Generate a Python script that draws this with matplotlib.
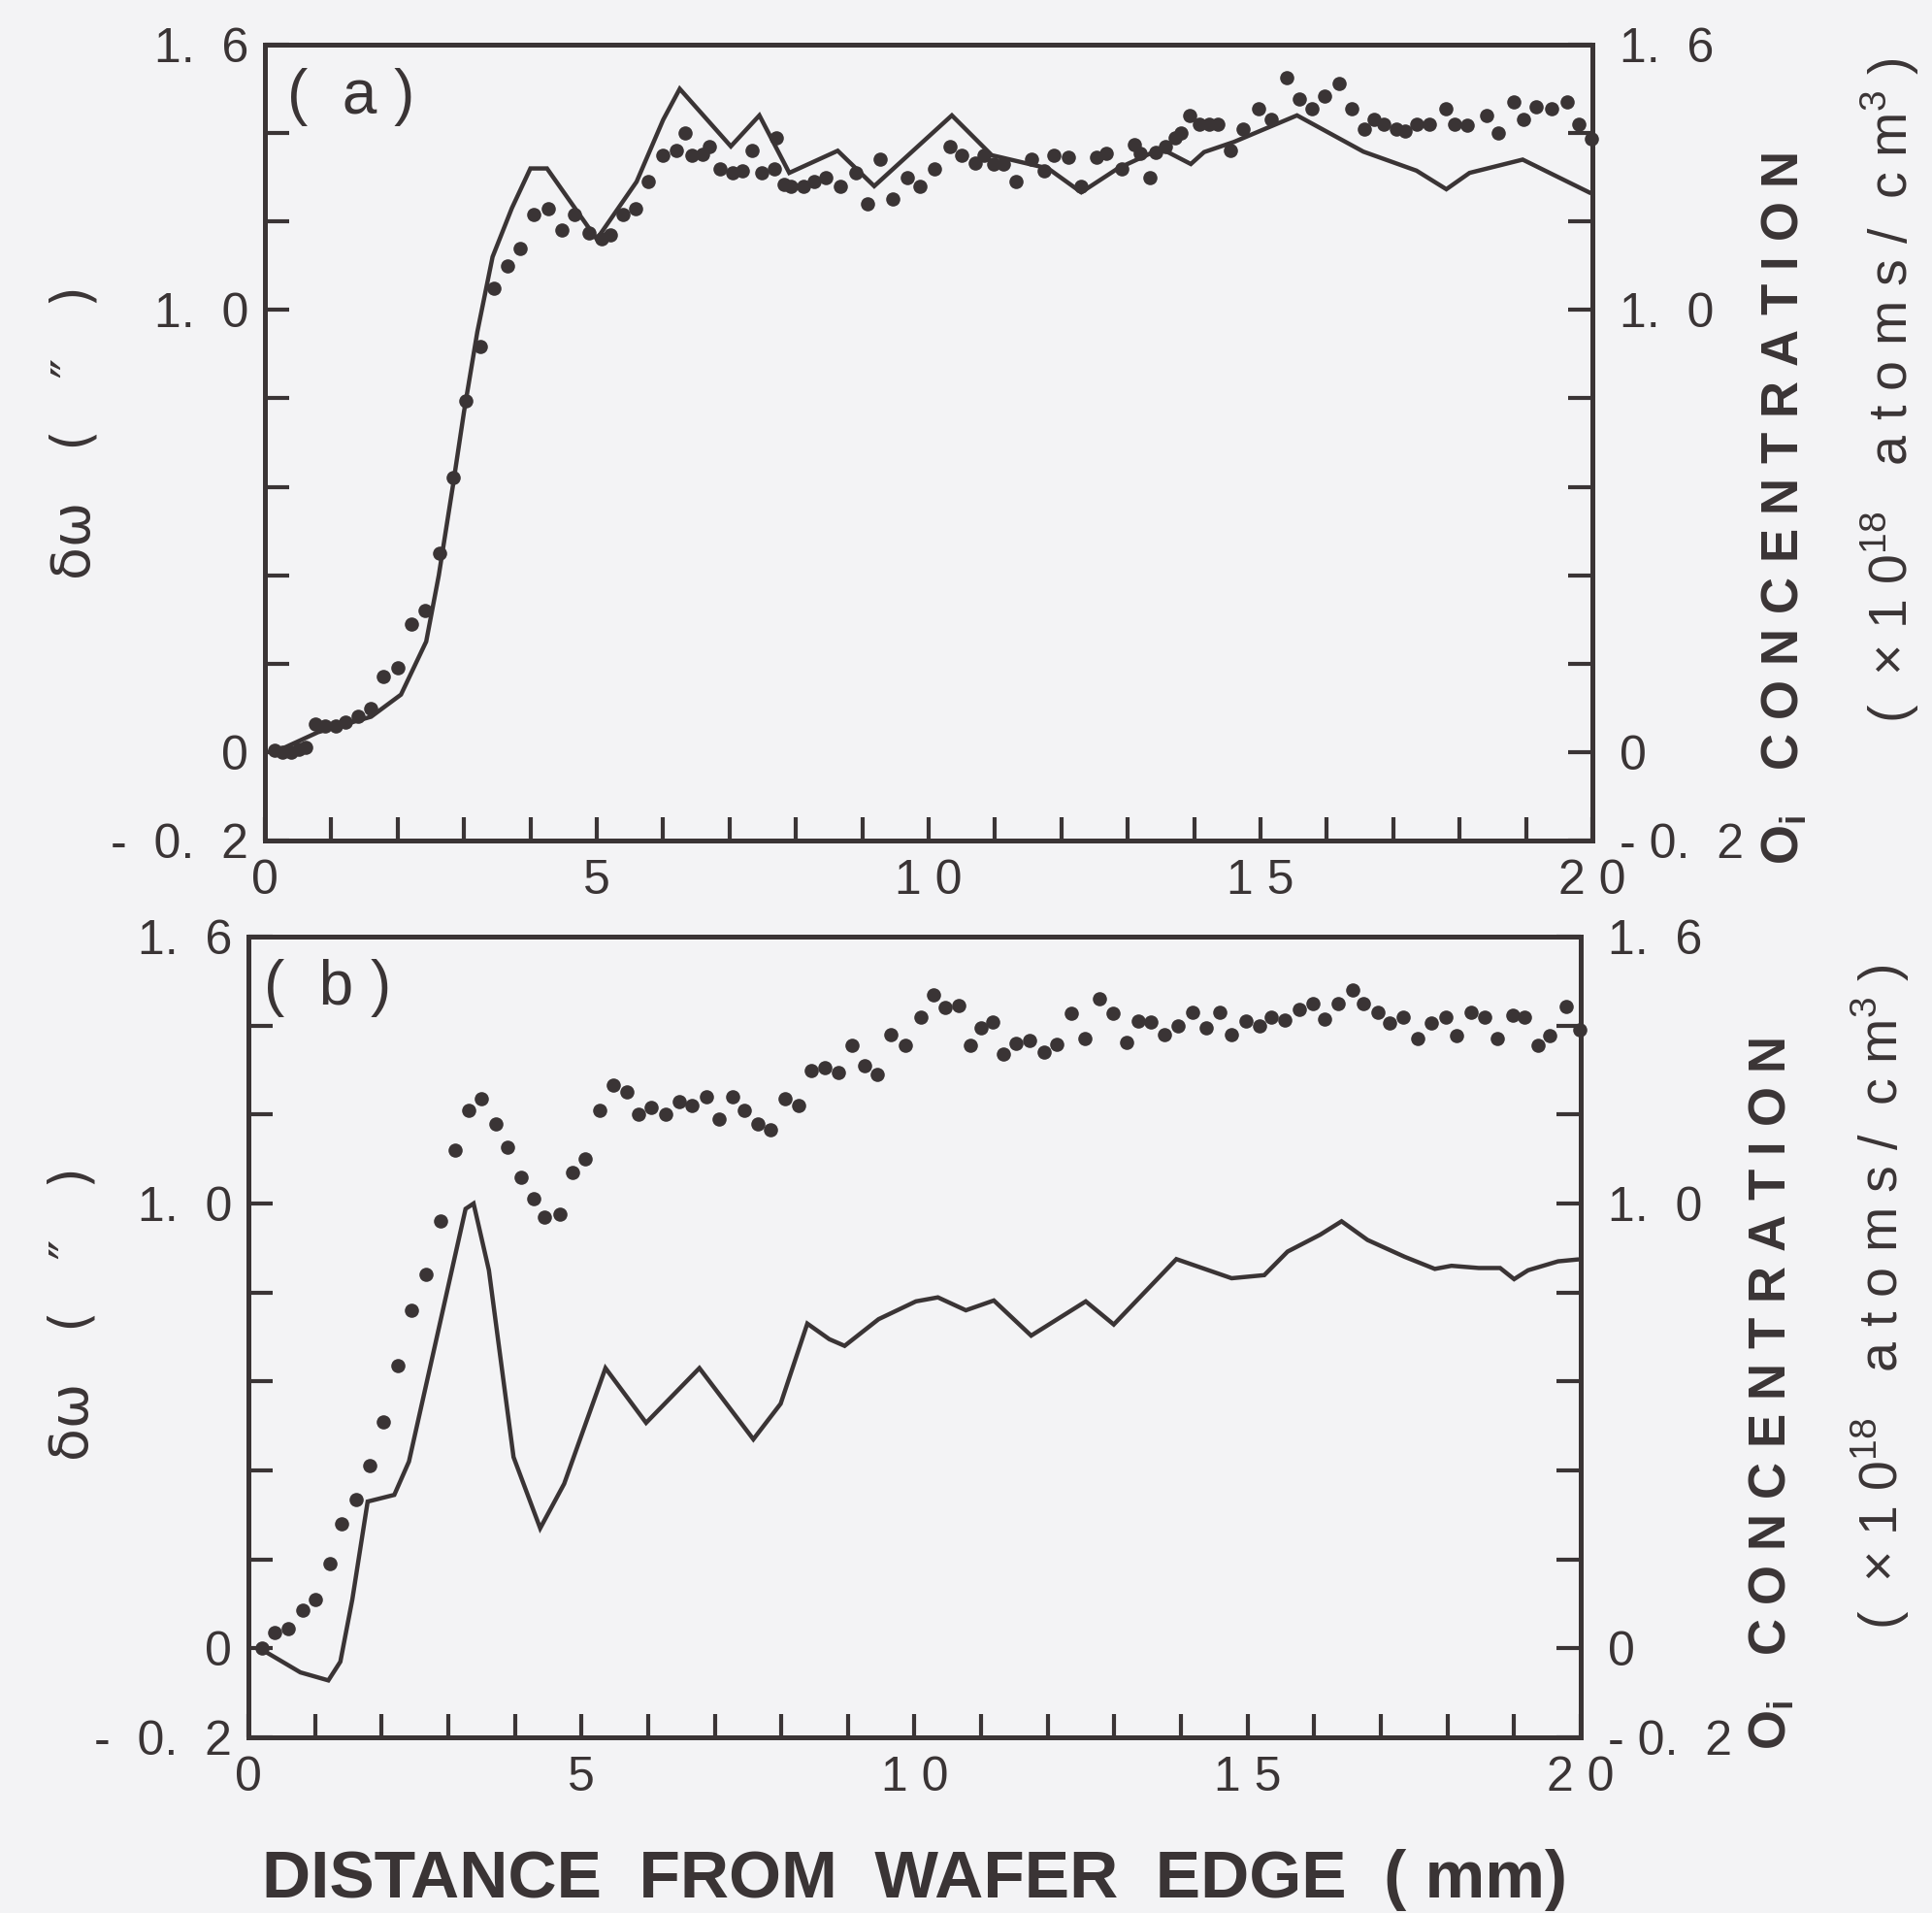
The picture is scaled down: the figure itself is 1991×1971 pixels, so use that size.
import matplotlib
matplotlib.use("Agg")
import matplotlib.pyplot as plt
from matplotlib import font_manager
from matplotlib.ticker import FixedLocator, MultipleLocator

# --- pick a condensed face if the box has one ---
names = {f.name for f in font_manager.fontManager.ttflist}
NARROW = "Liberation Sans Narrow" if "Liberation Sans Narrow" in names else "Liberation Sans"
plt.rcParams["font.family"] = [NARROW, "DejaVu Sans"]

INK = "#3a3435"
PAPER = "#f3f3f5"

# --- data (x in mm from wafer edge) ---
# (a): solid line = delta omega, dots = Oi concentration
a_line_x = [0.15, 0.8, 1.6, 2.05, 2.43, 2.62, 2.83, 3.0, 3.2, 3.43, 3.72, 4.0, 4.25,
            5.0, 5.6, 6.0, 6.25, 7.02, 7.45, 7.9, 8.63, 9.18, 10.35, 10.95, 11.8,
            12.3, 12.85, 13.5, 13.95, 14.15, 14.6, 15.55, 16.55, 17.35, 17.8, 18.15,
            18.95, 19.95]
a_line_y = [0.0, 0.045, 0.08, 0.13, 0.25, 0.4, 0.6, 0.77, 0.95, 1.12, 1.23, 1.32, 1.32,
            1.16, 1.29, 1.43, 1.50, 1.37, 1.44, 1.31, 1.36, 1.28, 1.44, 1.35, 1.32,
            1.266, 1.32, 1.365, 1.33, 1.357, 1.38, 1.44, 1.358, 1.315, 1.273, 1.31,
            1.34, 1.266]

a_dot_x = [0.14, 0.26, 0.4, 0.51, 0.62, 0.76, 0.91, 1.06, 1.21, 1.40, 1.59, 1.78, 2.0,
           2.21, 2.41, 2.63, 2.83, 3.03, 3.25, 3.45, 3.66, 3.84, 4.05, 4.27, 4.47, 4.66,
           4.88, 5.07, 5.2, 5.4, 5.59, 5.78, 6.0, 6.2, 6.33, 6.44, 6.59, 6.7, 6.85, 7.04,
           7.19, 7.34, 7.49, 7.67, 7.71, 7.82, 7.93, 8.12, 8.27, 8.45, 8.67, 8.9, 9.08,
           9.27, 9.46, 9.68, 9.87, 10.09, 10.32, 10.5, 10.70, 10.84, 10.98, 11.13, 11.31,
           11.55, 11.74, 11.88, 12.11, 12.30, 12.53, 12.67, 12.91, 13.10, 13.19, 13.33,
           13.42, 13.56, 13.71, 13.80, 13.94, 14.08, 14.22, 14.36, 14.55, 14.74, 14.97,
           15.16, 15.39, 15.58, 15.77, 15.96, 16.19, 16.38, 16.57, 16.71, 16.85, 17.04,
           17.18, 17.36, 17.55, 17.79, 17.93, 18.11, 18.40, 18.58, 18.82, 18.96, 19.15,
           19.38, 19.62, 19.80, 19.99]
a_dot_y = [0.004, 0.0, 0.0, 0.006, 0.01, 0.064, 0.058, 0.058, 0.068, 0.081, 0.099, 0.17,
           0.19, 0.289, 0.32, 0.45, 0.62, 0.795, 0.917, 1.05, 1.10, 1.14, 1.216, 1.228,
           1.18, 1.216, 1.175, 1.16, 1.17, 1.216, 1.23, 1.29, 1.35, 1.36, 1.40, 1.35,
           1.353, 1.37, 1.32, 1.31, 1.315, 1.36, 1.31, 1.32, 1.39, 1.285, 1.28, 1.28,
           1.29, 1.30, 1.28, 1.31, 1.24, 1.34, 1.25, 1.30, 1.28, 1.32, 1.37, 1.35,
           1.332, 1.35, 1.33, 1.33, 1.29, 1.34, 1.315, 1.35, 1.346, 1.28, 1.346, 1.355,
           1.32, 1.375, 1.355, 1.30, 1.357, 1.37, 1.39, 1.40, 1.44, 1.42, 1.42, 1.42,
           1.36, 1.41, 1.456, 1.43, 1.526, 1.477, 1.456, 1.484, 1.512, 1.456, 1.41,
           1.43, 1.42, 1.41, 1.405, 1.42, 1.42, 1.456, 1.42, 1.417, 1.44, 1.40, 1.47,
           1.43, 1.46, 1.456, 1.47, 1.42, 1.386]

# (b)
b_line_x = [0.17, 0.78, 1.20, 1.38, 1.56, 1.79, 2.19, 2.41, 3.26, 3.38, 3.61, 3.98,
            4.38, 4.74, 5.36, 5.97, 6.77, 7.58, 7.99, 8.39, 8.72, 8.95, 9.46, 10.02,
            10.35, 10.77, 11.19, 11.75, 12.57, 12.99, 13.93, 14.76, 15.25, 15.6, 16.09,
            16.41, 16.8, 17.36, 17.81, 18.06, 18.47, 18.79, 19.0, 19.21, 19.66, 19.94]
b_line_y = [0.0, -0.054, -0.072, -0.03, 0.11, 0.33, 0.345, 0.42, 0.988, 1.0, 0.85, 0.43,
            0.27, 0.37, 0.63, 0.507, 0.63, 0.47, 0.55, 0.73, 0.695, 0.68, 0.74, 0.78,
            0.789, 0.76, 0.782, 0.703, 0.78, 0.728, 0.875, 0.832, 0.839, 0.892, 0.93,
            0.96, 0.918, 0.88, 0.853, 0.86, 0.855, 0.855, 0.83, 0.85, 0.87, 0.874]

b_dot_x = [0.2, 0.39, 0.59, 0.81, 1.01, 1.23, 1.40, 1.62, 1.82, 2.03, 2.24, 2.45, 2.67,
           2.88, 3.10, 3.31, 3.50, 3.71, 3.89, 4.10, 4.28, 4.44, 4.67, 4.87, 5.06, 5.28,
           5.48, 5.68, 5.85, 6.05, 6.26, 6.47, 6.65, 6.87, 7.07, 7.27, 7.44, 7.65, 7.83,
           8.05, 8.26, 8.45, 8.65, 8.85, 9.06, 9.25, 9.44, 9.65, 9.86, 10.09, 10.28,
           10.46, 10.67, 10.84, 11.0, 11.17, 11.34, 11.52, 11.73, 11.94, 12.14, 12.35,
           12.56, 12.77, 12.98, 13.19, 13.36, 13.54, 13.75, 13.96, 14.17, 14.38, 14.58,
           14.76, 14.97, 15.18, 15.35, 15.56, 15.77, 15.98, 16.15, 16.36, 16.57, 16.74,
           16.95, 17.13, 17.34, 17.55, 17.76, 17.97, 18.14, 18.35, 18.56, 18.74, 18.98,
           19.15, 19.36, 19.54, 19.78, 19.99]
b_dot_y = [0.0, 0.036, 0.045, 0.085, 0.11, 0.19, 0.28, 0.335, 0.41, 0.51, 0.636, 0.76,
           0.84, 0.96, 1.12, 1.21, 1.235, 1.18, 1.127, 1.058, 1.01, 0.97, 0.976, 1.07,
           1.10, 1.21, 1.267, 1.25, 1.20, 1.215, 1.2, 1.23, 1.22, 1.24, 1.19, 1.24, 1.21,
           1.18, 1.165, 1.235, 1.22, 1.30, 1.305, 1.295, 1.355, 1.31, 1.29, 1.38, 1.355,
           1.42, 1.47, 1.44, 1.445, 1.355, 1.395, 1.408, 1.337, 1.361, 1.366, 1.34,
           1.357, 1.427, 1.37, 1.46, 1.427, 1.362, 1.411, 1.407, 1.379, 1.4, 1.43, 1.395,
           1.43, 1.38, 1.41, 1.40, 1.42, 1.413, 1.437, 1.45, 1.415, 1.45, 1.48, 1.45,
           1.43, 1.405, 1.42, 1.37, 1.406, 1.418, 1.377, 1.43, 1.418, 1.37, 1.424, 1.418,
           1.356, 1.377, 1.443, 1.39]

# --- axis scales and tick labels as printed ---
x_major = [0, 5, 10, 15, 20]
x_labels = ["0", "5", "1 0", "1 5", "2 0"]
y_major = [1.6, 1.0, 0.0, -0.2]
y_labels_left = ["1.  6", "1.  0", "0", "-  0.  2"]
y_labels_right = ["1.  6", "1.  0", "0", "- 0.  2"]

W, H = 1991, 1971
fig = plt.figure(figsize=(W / 100, H / 100), dpi=100)
fig.patch.set_facecolor(PAPER)

# axes rectangles in pixels: left, top, right, bottom
boxes = [(273, 46, 1641, 866), (256, 965, 1629, 1790)]
tags = [("(  a )", 362, 100), ("(  b )", 338, 1018)]
panels = [(a_line_x, a_line_y, a_dot_x, a_dot_y),
          (b_line_x, b_line_y, b_dot_x, b_dot_y)]


def style_axis(ax):
    ax.set_xlim(0, 20)
    ax.set_ylim(-0.2, 1.6)
    for s in ax.spines.values():
        s.set_linewidth(3.6)
        s.set_color(INK)
    ax.yaxis.set_major_locator(FixedLocator(y_major))
    ax.yaxis.set_minor_locator(MultipleLocator(0.2))
    ax.tick_params(axis="y", which="both", direction="in", length=18, width=3.0,
                   color=INK, labelcolor=INK, labelsize=36)


for (l, t, r, b), (lx, ly, dx, dy), (tag, tx, ty) in zip(boxes, panels, tags):
    ax = fig.add_axes([l / W, 1 - b / H, (r - l) / W, (b - t) / H])
    ax.set_facecolor(PAPER)
    style_axis(ax)
    ax.set_yticklabels(y_labels_left)
    ax.tick_params(axis="y", which="both", left=True, right=False, pad=12)
    ax.xaxis.set_major_locator(FixedLocator(x_major))
    ax.set_xticklabels(x_labels)
    ax.xaxis.set_minor_locator(MultipleLocator(1))
    ax.tick_params(axis="x", which="both", direction="in", length=17, width=3.0,
                   color=INK, labelcolor=INK, labelsize=36, pad=14, top=False)

    ax.plot(lx, ly, "-", lw=3.2, color=INK, solid_joinstyle="miter", zorder=3)
    ax.plot(dx, dy, "o", ms=10.5, mew=0, color=INK, zorder=4, clip_on=False)

    # right-hand axis: Oi concentration, same scale
    ax2 = ax.twinx()
    style_axis(ax2)
    ax2.set_yticklabels(y_labels_right)
    ax2.tick_params(axis="y", which="both", left=False, right=True, pad=20)

    fig.text(tx / W, 1 - ty / H, tag, fontsize=46, color=INK,
             ha="center", va="center")

# left axis titles
for cx, cy in [(78, 446), (76, 1354)]:
    fig.text(cx / W, 1 - cy / H, "δω   (   ″   )", rotation=90, fontsize=40,
             color=INK, ha="center", va="center", family=["DejaVu Sans"])

# right axis titles
for (cx1, cy1), (cx2, cy2) in [((1839, 524), (1948, 402)), ((1826, 1436), (1938, 1336))]:
    fig.text(cx1 / W, 1 - cy1 / H,
             "O$_\\mathregular{i}$   C O N C E N T R A T I O N",
             rotation=90, fontsize=38, fontweight="bold", color=INK,
             ha="center", va="center")
    fig.text(cx2 / W, 1 - cy2 / H,
             "(  × 1 0$^\\mathregular{18}$   a t o m s /  c m$^\\mathregular{3}$ )",
             rotation=90, fontsize=40, color=INK, ha="center", va="center")

fig.text(943 / W, 1 - 1937 / H,
         "DISTANCE  FROM  WAFER  EDGE  ( mm)",
         fontsize=50, fontweight="bold", color=INK, ha="center", va="center")

fig.savefig("out.png", dpi=100, facecolor=PAPER)
